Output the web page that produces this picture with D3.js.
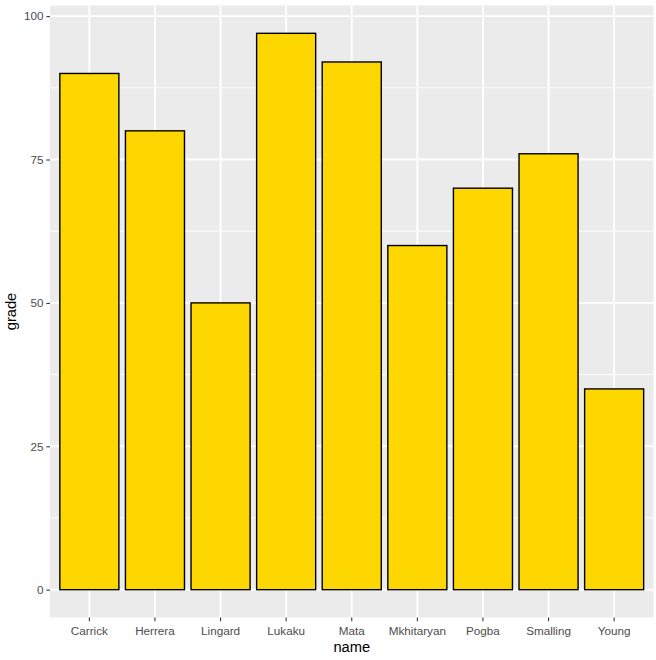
<!DOCTYPE html>
<html><head><meta charset="utf-8">
<script src="https://cdn.jsdelivr.net/npm/d3@7"></script>
<style>body{margin:0;background:#fff;} svg{display:block;font-family:"Liberation Sans",Arial,sans-serif;}</style>
</head><body>
<svg id="c" width="656" height="660"></svg>
<script>
const names = ["Carrick","Herrera","Lingard","Lukaku","Mata","Mkhitaryan","Pogba","Smalling","Young"];
const grades = [90,80,50,97,92,60,70,76,35];
const yTicks = [0,25,50,75,100];
const yMinor = [12.5,37.5,62.5,87.5];

const svg = d3.select("#c");
const P = {l:50, r:653.5, t:5.5, b:617.5};
const maxV = d3.max(grades);
const pad = maxV*0.05;
const y = d3.scaleLinear().domain([0-pad, maxV+pad]).range([P.b, P.t]);
const x = d3.scaleBand().domain(names).range([P.l, P.r]).paddingInner(0.1).paddingOuter(0.15);

svg.append("rect").attr("x",0).attr("y",0).attr("width",656).attr("height",660).attr("fill","#fff");
svg.append("rect").attr("x",P.l).attr("y",P.t).attr("width",P.r-P.l).attr("height",P.b-P.t).attr("fill","#EBEBEB");

const g = svg.append("g");
g.selectAll("line.ymin").data(yMinor).enter().append("line")
  .attr("x1",P.l).attr("x2",P.r).attr("y1",d=>y(d)).attr("y2",d=>y(d))
  .attr("stroke","#fff").attr("stroke-width",0.95);
g.selectAll("line.ymaj").data(yTicks).enter().append("line")
  .attr("x1",P.l).attr("x2",P.r).attr("y1",d=>y(d)).attr("y2",d=>y(d))
  .attr("stroke","#fff").attr("stroke-width",1.9);
g.selectAll("line.xmaj").data(names).enter().append("line")
  .attr("y1",P.t).attr("y2",P.b).attr("x1",d=>x(d)+x.bandwidth()/2).attr("x2",d=>x(d)+x.bandwidth()/2)
  .attr("stroke","#fff").attr("stroke-width",1.9);

svg.append("g").selectAll("rect").data(names).enter().append("rect")
  .attr("x",d=>x(d)).attr("width",x.bandwidth())
  .attr("y",(d,i)=>y(grades[i])).attr("height",(d,i)=>y(0)-y(grades[i]))
  .attr("fill","#FFD700").attr("stroke","#000").attr("stroke-width",1.4);

// axes
const yAxis = d3.axisLeft(y).tickValues(yTicks).tickSize(3.65).tickPadding(2.9);
const ya = svg.append("g").attr("transform",`translate(${P.l},0)`).call(yAxis);
ya.select(".domain").remove();
ya.selectAll(".tick line").attr("stroke","#333").attr("stroke-width",1.07);
ya.selectAll(".tick text").attr("fill","#4D4D4D").attr("font-size","11.7px").attr("font-family","Liberation Sans, Arial, sans-serif");

const xAxis = d3.axisBottom(x).tickSize(3.65).tickPadding(5.5);
const xa = svg.append("g").attr("transform",`translate(0,${P.b})`).call(xAxis);
xa.select(".domain").remove();
xa.selectAll(".tick line").attr("stroke","#333").attr("stroke-width",1.07);
xa.selectAll(".tick text").attr("fill","#4D4D4D").attr("font-size","11.7px").attr("font-family","Liberation Sans, Arial, sans-serif");

svg.append("text").attr("x",(P.l+P.r)/2).attr("y",651.5).attr("text-anchor","middle")
  .attr("font-size","14.7px").attr("fill","#000").text("name");
svg.append("text").attr("transform",`translate(15.5,${(P.t+P.b)/2}) rotate(-90)`).attr("text-anchor","middle")
  .attr("font-size","14.7px").attr("fill","#000").text("grade");
</script>
</body></html>
